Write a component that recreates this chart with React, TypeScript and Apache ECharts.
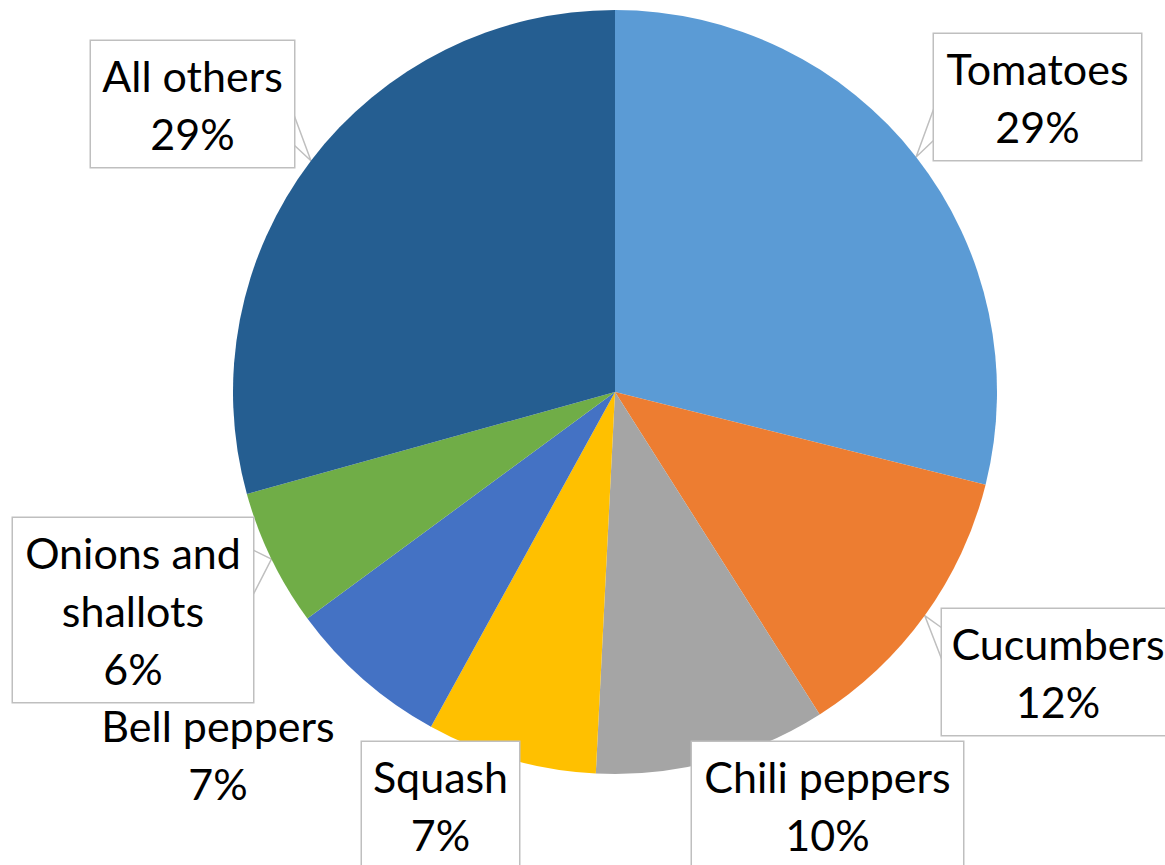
import React, { useEffect, useRef } from "react";
import * as echarts from "echarts";

const categories = [
  "Tomatoes",
  "Cucumbers",
  "Chili peppers",
  "Squash",
  "Bell peppers",
  "Onions and shallots",
  "All others",
];
const values = [28.9, 12.1, 9.8, 7.2, 6.9, 5.8, 29.3];
const colors = ["#5B9BD5", "#ED7D31", "#A5A5A5", "#FFC000", "#4472C4", "#70AD47", "#255E91"];

// label layout (box centre x, box top, box width, whether boxed)
const labelBoxes = [
  { cx: 1037.5, top: 34, w: 207, boxed: true },
  { cx: 1058, top: 609, w: 232, boxed: true },
  { cx: 827.5, top: 742, w: 271, boxed: true },
  { cx: 440.5, top: 742, w: 157, boxed: true },
  { cx: 218, top: 691, w: 240, boxed: false },
  { cx: 133, top: 518, w: 240, boxed: true },
  { cx: 192.5, top: 41, w: 203, boxed: true },
];
// callout pointer: side of box and offsets of pointer base from box top
const callouts: Record<number, { side: "left" | "right"; a: number; b: number }> = {
  0: { side: "left", a: 74, b: 106 },
  1: { side: "left", a: 19, b: 51 },
  5: { side: "right", a: 32, b: 77 },
  6: { side: "right", a: 74, b: 104 },
};

const CX = 615;
const CY = 392;
const R = 382;
const FONT = "Lato";
const FONT_SIZE = 43;
const LINE_H = 58;
const PAD: [number, number] = [5, 10];
const BORDER = "#BFBFBF";

function tipPoint(i: number): number[] {
  const total = values.reduce((s, v) => s + v, 0);
  let before = 0;
  for (let k = 0; k < i; k++) before += values[k];
  const mid = ((before + values[i] / 2) / total) * Math.PI * 2;
  return [CX + R * Math.sin(mid), CY - R * Math.cos(mid)];
}

export default function App() {
  const ref = useRef<HTMLDivElement>(null);
  useEffect(() => {
    if (!ref.current) return;
    const chart = echarts.init(ref.current, null, { renderer: "svg" });
    const data = categories.map((name, i) => {
      const b = labelBoxes[i];
      return {
        name,
        value: values[i],
        itemStyle: { color: colors[i] },
        label: {
          width: b.w - PAD[1] * 2,
          overflow: "none",
          backgroundColor: b.boxed ? "#FFFFFF" : "transparent",
          borderColor: b.boxed ? BORDER : "transparent",
          borderWidth: b.boxed ? 1.5 : 0,
        },
        labelLine: { show: callouts[i] != null },
      };
    });
    chart.setOption({
      animation: false,
      backgroundColor: "#FFFFFF",
      series: [
        {
          type: "pie",
          center: [CX, CY],
          radius: R,
          startAngle: 90,
          clockwise: true,
          silent: true,
          avoidLabelOverlap: false,
          itemStyle: { borderWidth: 0 },
          emphasis: { disabled: true },
          label: {
            show: true,
            position: "outside",
            fontFamily: FONT,
            fontSize: FONT_SIZE,
            lineHeight: LINE_H,
            color: "#000000",
            align: "center",
            width: 220,
            overflow: "none",
            padding: PAD,
            formatter: (p: any) => {
              const name = p.name === "Onions and shallots" ? "Onions and\nshallots" : p.name;
              return name + "\n" + Math.round(p.percent) + "%";
            },
          },
          labelLine: {
            show: true,
            lineStyle: { color: BORDER, width: 1.5 },
          },
          labelLayout: (params: any) => {
            const i = params.dataIndex;
            const b = labelBoxes[i];
            const res: any = { x: b.cx, y: b.top, align: "center", verticalAlign: "top" };
            const c = callouts[i];
            if (c) {
              const ex = c.side === "left" ? b.cx - b.w / 2 : b.cx + b.w / 2;
              res.labelLinePoints = [[ex, b.top + c.a], tipPoint(i), [ex, b.top + c.b]];
            }
            return res;
          },
          data,
        },
      ],
    });
    return () => chart.dispose();
  }, []);
  return (
    <div
      ref={ref}
      style={{ position: "absolute", left: 0, top: 0, width: 1165, height: 865 }}
    />
  );
}
